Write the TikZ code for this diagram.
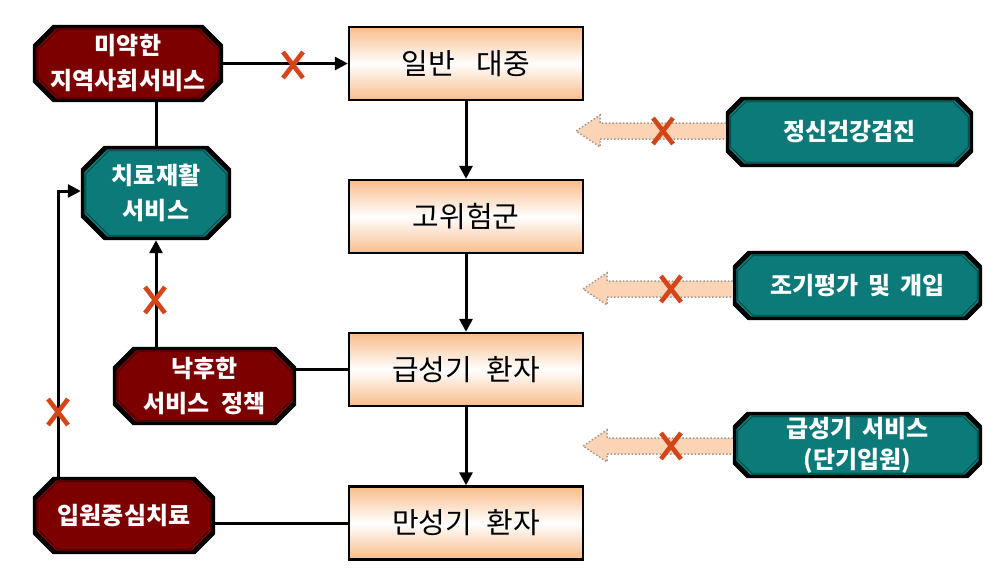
\documentclass[tikz,border=0pt]{standalone}
\usepackage{fontspec}
\newfontfamily\kr{Noto Sans CJK KR}
\usetikzlibrary{arrows.meta,calc,backgrounds}
\definecolor{dred}{HTML}{7D0000}
\definecolor{dredline}{HTML}{3A0000}
\definecolor{tealc}{HTML}{0B7A78}
\definecolor{tealline}{HTML}{0A3E3D}
\definecolor{peach}{HTML}{F8BC8A}
\definecolor{arrowfill}{HTML}{FAD4B4}
\definecolor{arrowline}{HTML}{A09890}
\definecolor{xred}{HTML}{D4461A}
\newcommand\octpath[3]{($(#1.north west)+(#2pt+#3pt,-#3pt)$) -- ($(#1.north east)+(-#2pt-#3pt,-#3pt)$) -- ($(#1.north east)+(-#3pt,-#2pt-#3pt)$) -- ($(#1.south east)+(-#3pt,#2pt+#3pt)$) -- ($(#1.south east)+(-#2pt-#3pt,#3pt)$) -- ($(#1.south west)+(#2pt+#3pt,#3pt)$) -- ($(#1.south west)+(#3pt,#2pt+#3pt)$) -- ($(#1.north west)+(#3pt,-#2pt-#3pt)$) -- cycle}
\newcommand\octo[4]{%
  \begin{pgfonlayer}{background}
    \fill[black] \octpath{#1}{#2}{0};
    \fill[#3] \octpath{#1}{#2}{3.5};
    \draw[#4, line width=0.8pt] \octpath{#1}{#2}{5};
  \end{pgfonlayer}}
\newcommand\xmk[1]{%
  \draw[xred, line width=4.6pt] ($(#1)+(-10pt,13pt)$) -- ($(#1)+(10pt,-13pt)$);
  \draw[xred, line width=4.6pt] ($(#1)+(10pt,13pt)$) -- ($(#1)+(-10pt,-13pt)$);}
\newcommand\blockarrow[2]{%
  \begin{pgfonlayer}{background}
  \draw[arrowline, dotted, line width=1.5pt, fill=arrowfill]
    ($(#2.west|-#1)+(0,8pt)$) -- ($(#1)+(24pt,8pt)$) -- ($(#1)+(24pt,16pt)$) -- (#1)
    -- ($(#1)+(24pt,-16pt)$) -- ($(#1)+(24pt,-8pt)$) -- ($(#2.west|-#1)+(0,-8pt)$);
  \end{pgfonlayer}}
\tikzset{
  box/.style={draw=black, line width=2.4pt, top color=peach, bottom color=peach, middle color=white,
    minimum width=234pt, minimum height=73pt, inner sep=0pt, font=\kr\fontsize{29}{32}\selectfont},
  oct/.style={inner sep=0pt, text=white, align=center, font=\kr\bfseries\fontsize{24}{35}\selectfont},
  conn/.style={line width=3pt, draw=black},
  tip/.style={-{Triangle[length=13pt,width=13pt]}}
}
\begin{document}
\begin{tikzpicture}[x=1pt,y=-1pt]
\useasboundingbox (0,0) rectangle (990,584);
\begin{pgfonlayer}{background}
\fill[white] (0,0) rectangle (990,584);
\end{pgfonlayer}
% central boxes
\node[box] (n1) at (466,63.5) {일반\hspace{22pt}대중};
\node[box] (n2) at (466,216.5) {고위험군};
\node[box] (n3) at (466,369.5) {급성기\hspace{14pt}환자};
\node[box] (n4) at (466,523) {만성기\hspace{14pt}환자};
% left octagons
\node[oct, minimum width=190pt, minimum height=77pt] (m) at (128,63.5) {미약한\\지역사회서비스};
\node[oct, minimum width=150pt, minimum height=94pt] (t) at (156,193) {치료재활\\서비스};
\node[oct, minimum width=183pt, minimum height=78pt] (p) at (204.5,386) {낙후한\\서비스\hspace{12pt}정책};
\node[oct, minimum width=182pt, minimum height=77pt] (h) at (124,515.5) {입원중심치료};
% right octagons
\node[oct, minimum width=247pt, minimum height=70pt] (s1) at (849.5,132) {정신건강검진};
\node[oct, minimum width=249pt, minimum height=69pt] (s2) at (857.5,285.5) {조기평가\hspace{10pt}및\hspace{10pt}개입};
\node[oct, font=\kr\bfseries\fontsize{24}{31}\selectfont, minimum width=249pt, minimum height=66pt] (s3) at (857.5,445) {급성기\hspace{10pt}서비스\\(단기입원)};
\octo{m}{20}{dred}{dredline}
\octo{t}{23}{tealc}{tealline}
\octo{p}{20}{dred}{dredline}
\octo{h}{20}{dred}{dredline}
\octo{s1}{15}{tealc}{tealline}
\octo{s2}{15}{tealc}{tealline}
\octo{s3}{14}{tealc}{tealline}
% block arrows
\coordinate (a1) at (576,131);
\coordinate (a2) at (583,289);
\coordinate (a3) at (583,446);
\blockarrow{a1}{s1}
\blockarrow{a2}{s2}
\blockarrow{a3}{s3}
% connectors
\draw[conn, tip] (n1) -- (n2);
\draw[conn, tip] (n2) -- (n3);
\draw[conn, tip] (n3) -- (n4);
\draw[conn, tip] (m.east) -- (n1.west);
\draw[conn] (t.north |- m.south) -- (t.north);
\draw[conn, tip] (t.south |- p.north) -- (t.south);
\draw[conn] (n3.west -| p.east) -- (n3.west);
\draw[conn] (n4.west -| h.east) -- (n4.west);
\coordinate (lc) at (58,191);
\draw[conn, tip] (h.north -| lc) -- (lc) -- (t.west |- lc);
% X marks
\coordinate (x1) at (293,65);
\coordinate (x2) at (155,300);
\coordinate (x3) at (58,412);
\coordinate (x4) at (663,131);
\coordinate (x5) at (671,289);
\coordinate (x6) at (671,446);
\xmk{x1}\xmk{x2}\xmk{x3}\xmk{x4}\xmk{x5}\xmk{x6}
\end{tikzpicture}
\end{document}
